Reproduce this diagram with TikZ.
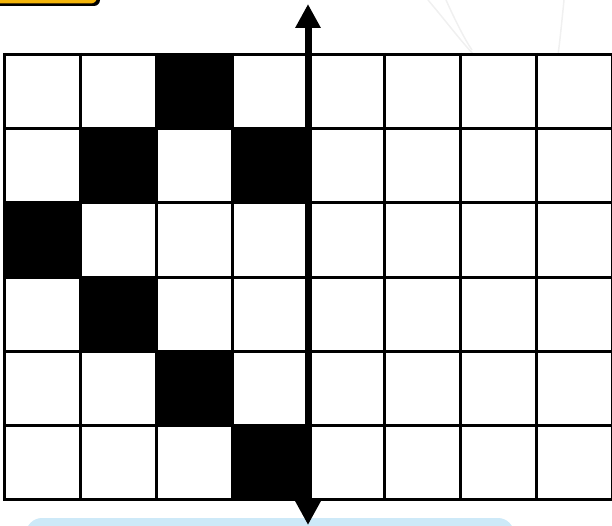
\documentclass[tikz,border=0pt]{standalone}
\usetikzlibrary{arrows.meta}
\definecolor{tagyellow}{HTML}{F5B50A}
\definecolor{boxblue}{HTML}{CDE9F8}
\tikzset{
  gridline/.style={line width=3pt, black},
  blackcell/.style={fill=black},
  axisarrow/.style={line width=7pt, {Triangle[width=24pt,length=24pt]}-{Triangle[width=24pt,length=24pt]}},
  faint/.style={line width=1.5pt, black!6},
}
\begin{document}
\begin{tikzpicture}[x=1pt,y=-1pt]
\useasboundingbox (0,0) rectangle (612,526);
\begin{scope}
\clip (0,0) rectangle (612,526);
% faint decoration
\draw[faint] (428,0) .. controls (445,20) and (460,40) .. (474,55);
\draw[faint] (446,0) .. controls (455,20) and (465,40) .. (472,50);
\draw[faint] (564,0) .. controls (562,20) and (560,40) .. (558,55);
% yellow tag
\fill[black, rounded corners=6pt] (-12,-22) rectangle (100,6);
\fill[tagyellow, rounded corners=6pt] (-12,-24) rectangle (97,3.5);
% blue box
\fill[boxblue, rounded corners=16pt] (26,518) rectangle (514,570);
% black cells
\foreach \c/\r in {2/0, 1/1, 3/1, 0/2, 1/3, 2/4, 3/5} {
  \fill[blackcell] (4.5+76*\c, 54.5+74.17*\r) rectangle (4.5+76*\c+76, 54.5+74.17*\r+74.17);
}
% grid
\foreach \c in {0,...,8} \draw[gridline] (4.5+76*\c, 53) -- (4.5+76*\c, 501);
\foreach \r in {0,...,6} \draw[gridline] (3, 54.5+74.17*\r) -- (620, 54.5+74.17*\r);
% axis arrow
\coordinate (top) at (308,4);
\coordinate (bot) at (308,525);
\draw[axisarrow] (bot) -- (top);
\end{scope}
\end{tikzpicture}
\end{document}
